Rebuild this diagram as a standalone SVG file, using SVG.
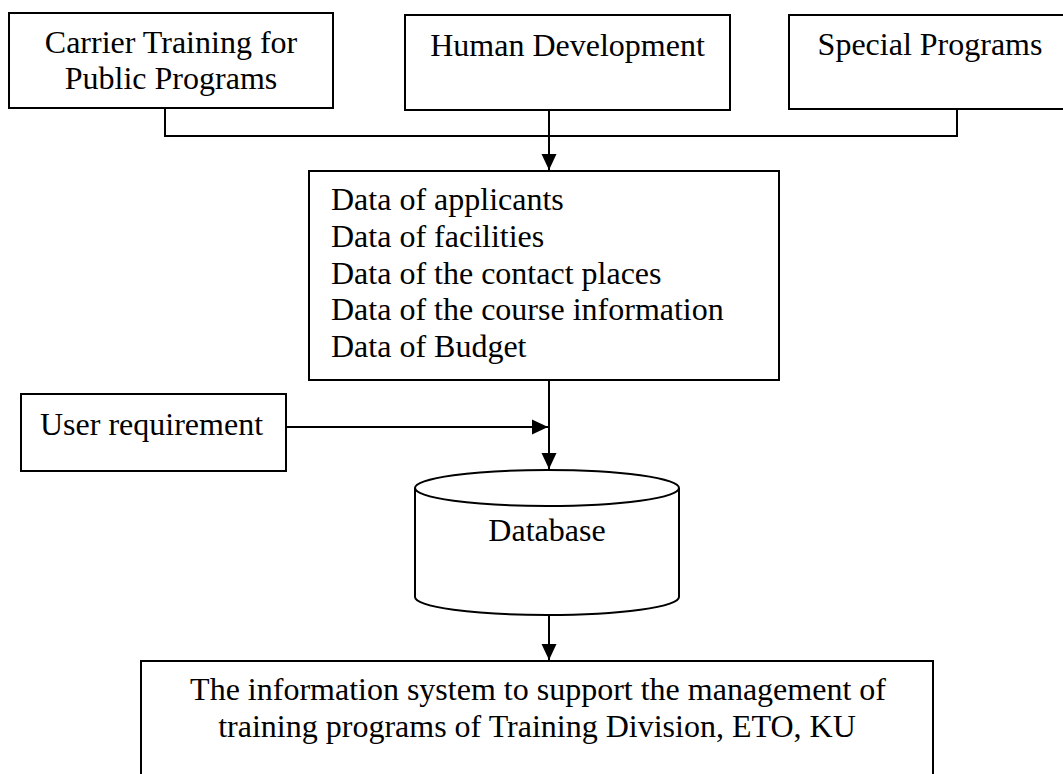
<svg xmlns="http://www.w3.org/2000/svg" width="1063" height="774" viewBox="0 0 1063 774">
  <style>
    .box { fill: #fff; stroke: #000; stroke-width: 2; }
    .lbl { font-family: "Liberation Serif", "Times New Roman", serif; font-size: 32px; fill: #000; }
    .mid { text-anchor: middle; }
    .conn { fill: none; stroke: #000; stroke-width: 2; }
  </style>
  <defs>
    <marker id="arrow" markerUnits="userSpaceOnUse" markerWidth="17" markerHeight="16" refX="16" refY="8" orient="auto">
      <path d="M0,0.5 L16,8 L0,15.5 Z" fill="#000"/>
    </marker>
  </defs>
  <rect width="1063" height="774" fill="#fff"/>

  <g id="carrier">
    <rect class="box" x="9" y="13" width="324" height="95"/>
    <text class="lbl mid" x="171" y="53">Carrier Training for</text>
    <text class="lbl mid" x="171" y="89">Public Programs</text>
  </g>
  <g id="human">
    <rect class="box" x="405" y="15" width="325" height="95"/>
    <text class="lbl mid" x="567.5" y="56">Human Development</text>
  </g>
  <g id="special">
    <rect class="box" x="789" y="15" width="280" height="94"/>
    <text class="lbl mid" x="930" y="55">Special Programs</text>
  </g>
  <g id="data">
    <rect class="box" x="309" y="171" width="470" height="209"/>
    <text class="lbl" x="331" y="210">Data of applicants</text>
    <text class="lbl" x="331" y="247">Data of facilities</text>
    <text class="lbl" x="331" y="284">Data of the contact places</text>
    <text class="lbl" x="331" y="320">Data of the course information</text>
    <text class="lbl" x="331" y="357">Data of Budget</text>
  </g>
  <g id="user">
    <rect class="box" x="21" y="394" width="265" height="77"/>
    <text class="lbl" x="40" y="435">User requirement</text>
  </g>
  <g id="database">
    <path class="box" d="M415,488 L415,597 A132,18 0 0 0 679,597 L679,488"/>
    <ellipse class="box" cx="547" cy="488" rx="132" ry="18"/>
    <text class="lbl mid" x="547" y="541">Database</text>
  </g>
  <g id="system">
    <rect class="box" x="141" y="661" width="792" height="140"/>
    <text class="lbl mid" x="538" y="700">The information system to support the management of</text>
    <text class="lbl mid" x="537" y="737">training programs of Training Division, ETO, KU</text>
  </g>

  <g id="connectors">
    <polyline class="conn" points="165,108 165,136 957,136 957,109"/>
    <line class="conn" x1="549" y1="110" x2="549" y2="170" marker-end="url(#arrow)"/>
    <line class="conn" x1="549" y1="380" x2="549" y2="469" marker-end="url(#arrow)"/>
    <line class="conn" x1="286" y1="427" x2="548" y2="427" marker-end="url(#arrow)"/>
    <line class="conn" x1="549" y1="615" x2="549" y2="660" marker-end="url(#arrow)"/>
  </g>
</svg>
